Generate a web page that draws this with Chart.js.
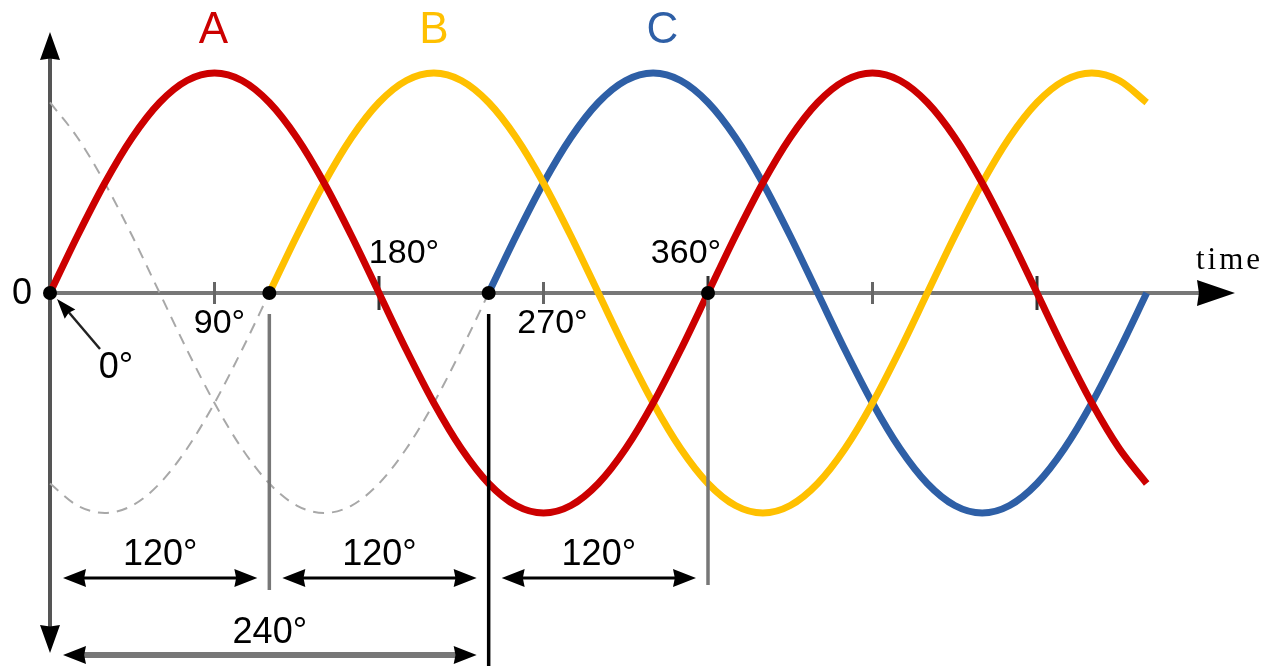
<!DOCTYPE html>
<html>
<head>
<meta charset="utf-8">
<script src="https://cdn.jsdelivr.net/npm/chart.js@4"></script>
<style>
html,body{margin:0;padding:0;background:#fff;}
#wrap{width:1263px;height:666px;}
</style>
</head>
<body>
<div id="wrap"><canvas id="c" width="1263" height="666"></canvas></div>
<script>
// ---- data ----
const angles = [0,15,30,45,60,75,90,105,120,135,150,165,180,195,210,225,240,255,270,285,300,315,330,345,360,375,390,405,420,435,450,465,480,495,510,525,540,555,570,585,600];
const phaseA = [0,.259,.5,.707,.866,.966,1,.966,.866,.707,.5,.259,0,-.259,-.5,-.707,-.866,-.966,-1,-.966,-.866,-.707,-.5,-.259,0,.259,.5,.707,.866,.966,1,.966,.866,.707,.5,.259,0,-.259,-.5,-.707,-.866];
const phaseB = [null,null,null,null,null,null,null,null,0,.259,.5,.707,.866,.966,1,.966,.866,.707,.5,.259,0,-.259,-.5,-.707,-.866,-.966,-1,-.966,-.866,-.707,-.5,-.259,0,.259,.5,.707,.866,.966,1,.966,.866];
const phaseC = [null,null,null,null,null,null,null,null,null,null,null,null,null,null,null,null,0,.259,.5,.707,.866,.966,1,.966,.866,.707,.5,.259,0,-.259,-.5,-.707,-.866,-.966,-1,-.966,-.866,-.707,-.5,-.259,0];
const phaseBLead = [-.866,-.966,-1,-.966,-.866,-.707,-.5,-.259,0];
const phaseCLead = [.866,.707,.5,.259,0,-.259,-.5,-.707,-.866,-.966,-1,-.966,-.866,-.707,-.5,-.259,0];
const seriesNames = ['A','B','C'];
const seriesLabelAngles = [90,210,335];
const tickAngles = [90,180,270,360,450,540];
const tickLabels = ['90°','180°','270°','360°'];
const tickLabelAngles = [90,180,270,360];
const startAngles = [0,120,240,360];
const spanLabels = ['120°','120°','120°','240°'];
const spanFrom = [0,120,240,0];
const spanTo = [120,240,360,240];

const colors = {A:'#cc0000', B:'#ffc000', C:'#2e5fa6', dash:'#a8a8a8'};
const FONT = '"Liberation Sans", Arial, sans-serif';

function pts(arr){
  return angles.map((a,i)=>({x:a,y:arr[i]})).filter(p=>p.y!==null && p.y!==undefined);
}

function arrowHead(ctx, x, y, ang, len, half, notch){
  ctx.save();
  ctx.translate(x,y); ctx.rotate(ang);
  ctx.beginPath();
  ctx.moveTo(0,0);
  ctx.lineTo(-len,-half);
  ctx.lineTo(-len*(notch||0.8),0);
  ctx.lineTo(-len,half);
  ctx.closePath();
  ctx.fill();
  ctx.restore();
}

const decor = {
  id:'decor',
  beforeDatasetsDraw(chart){
    const ctx = chart.ctx, xs = chart.scales.x, ys = chart.scales.y;
    const x0 = xs.getPixelForValue(0), y0 = ys.getPixelForValue(0);
    ctx.save();
    // vertical axis
    ctx.strokeStyle = '#555'; ctx.lineWidth = 4;
    ctx.beginPath(); ctx.moveTo(x0, 56); ctx.lineTo(x0, 628); ctx.stroke();
    ctx.fillStyle = '#000';
    arrowHead(ctx, x0, 32, -Math.PI/2, 28, 10, 0.95);
    arrowHead(ctx, x0, 653, Math.PI/2, 28, 10, 0.95);
    // horizontal axis
    ctx.strokeStyle = '#777'; ctx.lineWidth = 4;
    ctx.beginPath(); ctx.moveTo(x0, y0); ctx.lineTo(1200, y0); ctx.stroke();
    arrowHead(ctx, 1235, y0, 0, 38, 13, 0.95);
    // ticks
    tickAngles.forEach((a,i)=>{
      const px = xs.getPixelForValue(a);
      const major = (a % 180 === 0);
      ctx.strokeStyle = major ? '#333' : '#666';
      ctx.lineWidth = 3;
      const h = major ? 17 : 11;
      ctx.beginPath(); ctx.moveTo(px, y0-h); ctx.lineTo(px, y0+h); ctx.stroke();
    });
    ctx.restore();
  },
  afterDatasetsDraw(chart){
    const ctx = chart.ctx, xs = chart.scales.x, ys = chart.scales.y;
    const y0 = ys.getPixelForValue(0);
    ctx.save();
    // vertical reference lines
    const vl = [
      {a:120, y1:314, y2:590, c:'#777'},
      {a:240, y1:314, y2:666, c:'#000'},
      {a:360, y1:293, y2:585, c:'#777'}
    ];
    vl.forEach(v=>{
      const px = xs.getPixelForValue(v.a);
      ctx.strokeStyle = v.c; ctx.lineWidth = 3.5;
      ctx.beginPath(); ctx.moveTo(px, v.y1); ctx.lineTo(px, v.y2); ctx.stroke();
    });
    // start dots
    ctx.fillStyle = '#000';
    startAngles.forEach(a=>{
      ctx.beginPath(); ctx.arc(xs.getPixelForValue(a), y0, 7, 0, Math.PI*2); ctx.fill();
    });
    // 0° pointer
    ctx.strokeStyle = '#222'; ctx.lineWidth = 2.5;
    ctx.beginPath(); ctx.moveTo(100, 349); ctx.lineTo(66, 309); ctx.stroke();
    arrowHead(ctx, 57, 299, Math.atan2(299-349, 57-100), 20, 7, 0.9);
    // span arrows
    spanLabels.forEach((lab,i)=>{
      const big = i === 3;
      const xa = xs.getPixelForValue(spanFrom[i]) + 13;
      const xb = xs.getPixelForValue(spanTo[i]) - 12;
      const yy = big ? 655 : 578;
      ctx.strokeStyle = big ? '#777' : '#000';
      ctx.lineWidth = big ? 6 : 3;
      ctx.beginPath(); ctx.moveTo(xa+10, yy); ctx.lineTo(xb-10, yy); ctx.stroke();
      ctx.fillStyle = '#000';
      arrowHead(ctx, xa, yy, Math.PI, 23, 9, 0.92);
      arrowHead(ctx, xb, yy, 0, 23, 9, 0.92);
      ctx.font = '36px ' + FONT;
      ctx.textAlign = 'center'; ctx.textBaseline = 'alphabetic';
      ctx.fillText(lab, (xa+xb)/2, big ? 643 : 565);
    });
    // tick labels
    ctx.fillStyle = '#000';
    ctx.font = '34px ' + FONT;
    ctx.textAlign = 'center';
    tickLabels.forEach((t,i)=>{
      const a = tickLabelAngles[i];
      const px = xs.getPixelForValue(a);
      const above = (a % 180 === 0);
      const off = a===90 ? 5 : (a===180 ? 25 : (a===270 ? 9 : -22));
      ctx.fillText(t, px + off, above ? 263 : 333);
    });
    ctx.font = '36px ' + FONT;
    ctx.fillText('0', 22, 304);
    ctx.fillText('0°', 116, 378);
    // time
    ctx.font = '31px "Liberation Serif", "Times New Roman", serif';
    ctx.textAlign = 'left';
    try { ctx.letterSpacing = '3px'; } catch(e){}
    ctx.fillText('time', 1196, 269);
    try { ctx.letterSpacing = '0px'; } catch(e){}
    // series names
    ctx.font = '44px ' + FONT;
    ctx.textAlign = 'center';
    seriesNames.forEach((n,i)=>{
      ctx.fillStyle = colors[n];
      ctx.fillText(n, xs.getPixelForValue(seriesLabelAngles[i]) + (i===0?-1:0), 43);
    });
    ctx.restore();
  }
};

const pxPerDeg = 658/360;
new Chart(document.getElementById('c'), {
  type:'line',
  data:{
    datasets:[
      {label:'B lead', data:pts(phaseBLead), borderColor:colors.dash, borderWidth:2, borderDash:[11,8], order:5},
      {label:'C lead', data:pts(phaseCLead), borderColor:colors.dash, borderWidth:2, borderDash:[11,8], order:4},
      {label:'C', data:pts(phaseC), borderColor:colors.C, borderWidth:7, order:3},
      {label:'B', data:pts(phaseB), borderColor:colors.B, borderWidth:7, order:2},
      {label:'A', data:pts(phaseA), borderColor:colors.A, borderWidth:7, order:1}
    ]
  },
  options:{
    responsive:false,
    devicePixelRatio:1,
    animation:false,
    layout:{padding:0},
    elements:{
      point:{radius:0, hoverRadius:0},
      line:{cubicInterpolationMode:'monotone', fill:false, borderCapStyle:'butt'}
    },
    plugins:{legend:{display:false}, tooltip:{enabled:false}, title:{display:false}},
    events:[],
    scales:{
      x:{type:'linear', display:false, min:-50/pxPerDeg, max:1213/pxPerDeg},
      y:{type:'linear', display:false, min:-373/220, max:293/220}
    }
  },
  plugins:[decor]
});
</script>
</body>
</html>
